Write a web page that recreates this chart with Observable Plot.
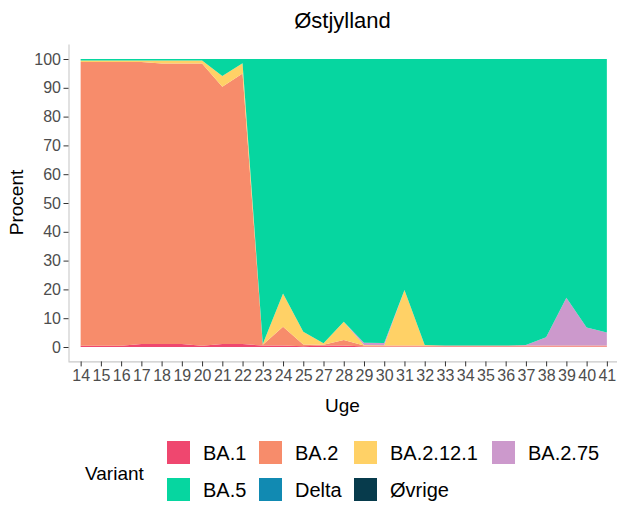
<!DOCTYPE html>
<html>
<head>
<meta charset="utf-8">
<script src="https://cdn.jsdelivr.net/npm/d3@7"></script>
<script src="https://cdn.jsdelivr.net/npm/@observablehq/plot@0.6"></script>
<style>
  body { margin: 0; background: #fff; font-family: "Liberation Sans", Arial, sans-serif; }
  #wrap { position: relative; width: 617px; height: 508px; overflow: hidden; }
  #chart { position: absolute; left: 0; top: 0; }
  .t { position: absolute; white-space: nowrap; color: #000; }
  .key { position: absolute; width: 23px; height: 23px; }
</style>
</head>
<body>
<div id="wrap">
  <div id="chart"></div>
</div>
<script>
// ---- data ----
const weeks = ["14","15","16","17","18","19","20","21","22","23","24","25","27","28","29","30","31","32","33","34","35","36","37","38","39","40","41"];
const variants = ["BA.1","BA.2","BA.2.12.1","BA.2.75","BA.5","Delta","Øvrige"];
const colors = ["#EF476F","#F78C6B","#FFD166","#CC99CC","#06D6A0","#118AB2","#073B4C"];

const BA1    = [0.4,0.4,0.4,1.0,1.0,1.0,0.4,1.0,1.0,0.5,0.5,0.3,0.5,0.5,0.2,0.2,0.2,0.2,0.2,0.2,0.2,0.2,0.2,0.2,0.2,0.2,0.2];
const BA2    = [98.6,98.6,98.6,98.0,97.4,97.4,98.0,89.4,94.0,0.3,6.5,0.6,0.3,1.9,0.3,0.3,0.3,0.3,0.3,0.3,0.3,0.3,0.3,0.3,0.3,0.3,0.3];
const BA2121 = [0.5,0.5,0.5,0.5,1.1,1.1,1.1,3.7,3.5,0.2,11.6,4.4,0.5,6.4,0.2,0.1,19.3,0.2,0,0,0,0,0,0,0,0,0];
const BA275  = [0,0,0,0,0,0,0,0,0,0,0,0,0,0,0.8,0.8,0,0,0,0,0,0,0.2,2.9,16.6,6.3,4.5];
const BA5    = [0.5,0.5,0.5,0.5,0.5,0.5,0.5,5.9,1.5,99.0,81.4,94.7,98.7,91.2,98.5,98.6,80.2,99.3,99.5,99.5,99.5,99.5,99.3,96.6,82.9,93.2,95.0];
const Delta  = [0,0,0,0,0,0,0,0,0,0,0,0,0,0,0,0,0,0,0,0,0,0,0,0,0,0,0];
const Ovrige = [0,0,0,0,0,0,0,0,0,0,0,0,0,0,0,0,0,0,0,0,0,0,0,0,0,0,0];
const yTicks = [0,10,20,30,40,50,60,70,80,90,100];

const series = [BA1, BA2, BA2121, BA275, BA5, Delta, Ovrige];
const rows = [];
variants.forEach((v, k) => {
  weeks.forEach((w, i) => rows.push({i, week: w, variant: v, value: series[k][i]}));
});

const idx = weeks.map((w, i) => i);
const tickCol = "#4D4D4D";

const plot = Plot.plot({
  width: 617,
  height: 420,
  marginTop: 44.6,
  marginBottom: 58.6,
  marginLeft: 68.5,
  marginRight: 0,
  style: {fontFamily: '"Liberation Sans", Arial, sans-serif', background: "transparent", overflow: "visible"},
  x: {domain: [-0.6, weeks.length - 1 + 0.6], range: [68.5, 619], axis: null},
  y: {domain: [-5, 105], axis: null},
  color: {domain: variants, range: colors},
  marks: [
    Plot.areaY(rows, Plot.stackY({
      x: "i", y: "value", z: "variant", fill: "variant", order: variants
    })),
    Plot.ruleY([-5], {stroke: "#C8C8C8", strokeWidth: 1.1}),
    Plot.ruleX([-0.6], {stroke: "#C8C8C8", strokeWidth: 1.1}),
    Plot.axisX(idx, {
      tickFormat: i => weeks[i], tickSize: 5, tickPadding: 3,
      fontSize: 16, stroke: "#333333", fill: tickCol, label: null
    }),
    Plot.axisY(yTicks, {
      tickSize: 5, tickPadding: 3, fontSize: 16,
      stroke: "#333333", fill: tickCol, label: null
    })
  ]
});
document.getElementById("chart").appendChild(plot);

// ---- titles & legend (HTML) ----
const wrap = document.getElementById("wrap");
function addText(txt, x, y, size, anchor, extra) {
  const d = document.createElement("div");
  d.className = "t";
  d.textContent = txt;
  d.style.fontSize = size + "px";
  d.style.lineHeight = "1";
  d.style.left = x + "px";
  d.style.top = (y - size / 2) + "px";
  let tf = "";
  if (anchor === "middle") tf += "translateX(-50%) ";
  if (extra) tf += extra;
  d.style.transform = tf;
  wrap.appendChild(d);
  return d;
}
addText("Østjylland", 342.5, 21, 22, "middle");
addText("Uge", 342.5, 405, 19, "middle");
const yl = addText("Procent", 16, 202, 19, "start");
yl.style.left = "0px";
yl.style.width = "32px";
yl.style.textAlign = "center";
yl.style.transformOrigin = "center center";
yl.style.display = "flex";
yl.style.justifyContent = "center";
yl.style.transform = "rotate(-90deg)";

addText("Variant", 85, 473, 19, "start");

const legendRows = [
  [["BA.1", 167], ["BA.2", 259], ["BA.2.12.1", 354], ["BA.2.75", 492]],
  [["BA.5", 167], ["Delta", 259], ["Øvrige", 354]]
];
const rowY = [452.5, 489.5];
legendRows.forEach((r, ri) => {
  r.forEach(([name, kx]) => {
    const k = document.createElement("div");
    k.className = "key";
    k.style.left = kx + "px";
    k.style.top = (rowY[ri] - 11.5) + "px";
    k.style.background = colors[variants.indexOf(name)];
    wrap.appendChild(k);
    addText(name, kx + 36, rowY[ri], 20, "start");
  });
});
</script>
</body>
</html>
